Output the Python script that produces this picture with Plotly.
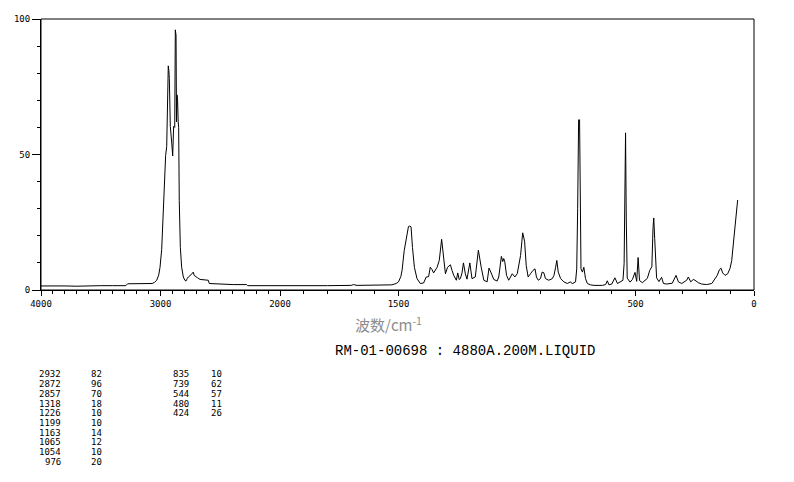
import plotly.graph_objects as go

# ---- spectrum data (wavenumber cm-1, relative intensity) ----
wn_high = [4000, 3900, 3800, 3700, 3600, 3500, 3400, 3290, 3275, 3150, 3070, 3050, 3032, 3015,
           3004, 2990, 2985, 2977, 2965, 2957, 2948, 2940, 2935, 2930, 2926, 2918, 2906, 2898,
           2890, 2881, 2876, 2870, 2866, 2862, 2857, 2852, 2848, 2843, 2834, 2823, 2809, 2795,
           2787, 2775, 2767, 2745, 2726, 2718, 2711, 2690, 2669, 2630, 2600, 2592, 2500, 2391,
           2280, 2270, 2100, 2000]
int_high = [1.5, 1.6, 1.5, 1.4, 1.6, 1.6, 1.6, 1.6, 2.3, 2.4, 2.4, 2.8, 3.6, 5.5,
            8.4, 15, 20.6, 33, 45, 49.6, 53, 67.6, 82.7, 81, 78, 60.4, 54.3, 49.5,
            60.4, 60, 96, 94, 62, 72, 70, 62, 60, 33, 15.7, 8.4, 4.8, 3.5,
            3.3, 4.3, 4.8, 5.6, 6.6, 5.4, 5.1, 4.5, 3.9, 3.7, 3.6, 2.4, 2.2, 2.0,
            2.0, 1.6, 1.6, 1.6]

wn_low = [2000, 1900, 1800, 1700, 1690, 1675, 1600, 1550, 1528, 1510, 1500, 1490, 1485, 1476,
          1464, 1458, 1452, 1447, 1441, 1433, 1422, 1408, 1394, 1383, 1373, 1366, 1359, 1352,
          1337, 1328, 1318, 1310, 1302, 1293, 1281, 1274, 1267, 1256, 1250, 1244, 1239, 1232,
          1226, 1218, 1211, 1199, 1190, 1176, 1163, 1151, 1140, 1126, 1118, 1109, 1098, 1084,
          1077, 1066, 1060, 1056, 1052, 1044, 1035, 1020, 1009, 999, 985, 976, 968, 961,
          953, 943, 933, 924, 918, 910, 901, 894, 887, 880, 866, 851, 844, 837,
          832, 826, 816, 802, 788, 774, 767, 753, 748, 744, 740, 736, 733, 730,
          724, 718, 711, 703, 690, 675, 640, 626, 619, 612, 600, 587, 576, 562,
          553, 548, 545, 542, 539, 535, 523, 513, 502, 495, 489, 483, 471, 450,
          440, 431, 426, 423, 419, 411, 401, 390, 382, 368, 345, 333, 329, 319,
          305, 284, 277, 267, 256, 249, 235, 221, 200, 178, 165, 155, 146, 139,
          132, 122, 111, 101, 94, 87, 80, 73, 69]
int_low = [1.6, 1.5, 1.6, 1.7, 2.0, 1.7, 1.7, 1.7, 1.9, 2.4, 3.0, 5, 7.2, 14.5,
           21.7, 23.4, 23.6, 23.3, 15.7, 8.4, 4.2, 2.4, 2.6, 4.8, 4.9, 8.4, 7.6, 6.3,
           8.4, 10.9, 18.7, 10.9, 6, 8.4, 9.3, 7.2, 5.4, 3.6, 6.3, 3.9, 4.2, 6.3,
           10, 6, 4, 10, 4.2, 4.8, 14.7, 8.4, 3.6, 3, 8.1, 6.3, 3.9, 3.3,
           4.8, 12.4, 10.5, 11.6, 10.6, 5.4, 3.6, 6, 4.8, 6, 12.7, 21.1, 18, 9,
           4.8, 6, 7.2, 7.8, 4.8, 3.6, 4.2, 6.6, 6.4, 4.2, 3.6, 4.2, 5.4, 8.4,
           10.9, 6.6, 4.2, 3, 2.4, 3, 2.3, 3, 7.8, 30, 62.8, 62.8, 30, 7.8,
           6.6, 8.4, 4.2, 2.4, 1.9, 1.7, 1.7, 2.0, 3.4, 1.9, 2.2, 4.5, 2.4, 3.3,
           3.6, 9.7, 48, 58, 26.6, 4.4, 2.9, 3.9, 6.5, 3.2, 12, 3.5, 2.7, 4.3,
           7.2, 8.6, 23, 26.6, 19, 4.5, 3.1, 4.7, 2.4, 2.2, 2.5, 4.8, 5.4, 3,
           2.4, 3.6, 4.8, 3, 3.9, 3.6, 2.7, 2.2, 2.0, 2.4, 4.2, 5.4, 7.5, 8,
           6.3, 5.4, 6, 8, 10.9, 17.5, 24, 30.8, 33.2]

# ---- peak table ----
peak_wn = [2932, 2872, 2857, 1318, 1226, 1199, 1163, 1065, 1054, 976, 835, 739, 544, 480, 424]
peak_int = [82, 96, 70, 18, 10, 10, 14, 12, 10, 20, 10, 62, 57, 11, 26]

# ---- axis tick labels ----
x_hi_ticks = [4000, 3000]
x_lo_ticks = [2000, 1500, 500, 0]
y_ticks = [0, 50, 100]

title_label = "波数/cm<sup>-1</sup>"
sample_label = "RM-01-00698 : 4880A.200M.LIQUID"

# page offset of the figure (browser body margin)
OFF = 8
PAGE_W, PAGE_H = 794, 482
W, H = PAGE_W - OFF, PAGE_H - OFF
# plot-area edges in page pixels
L, R, T, B = 41, 754, 14, 290
split = (280 - L) / (R - L)

MONO = "DejaVu Sans Mono"

fig = go.Figure()
fig.add_trace(go.Scatter(x=wn_high, y=int_high, mode="lines", xaxis="x", yaxis="y",
                         line=dict(color="black", width=1), showlegend=False, hoverinfo="skip"))
fig.add_trace(go.Scatter(x=wn_low, y=int_low, mode="lines", xaxis="x2", yaxis="y2",
                         line=dict(color="black", width=1), showlegend=False, hoverinfo="skip"))

axis_common = dict(showgrid=False, zeroline=False, showline=True, linecolor="black", linewidth=1,
                   ticks="outside", tickcolor="black", tickwidth=1, ticklen=5,
                   tickfont=dict(family=MONO, size=9, color="black"))

fig.update_layout(
    width=W, height=H,
    margin=dict(l=L - OFF, r=W - (R - OFF), t=T - OFF, b=H - (B - OFF), pad=0),
    paper_bgcolor="white", plot_bgcolor="white",
    xaxis=dict(domain=[0, split], range=[4000, 2000], anchor="y",
               tickmode="array", tickvals=x_hi_ticks, ticktext=[str(v) for v in x_hi_ticks],
               minor=dict(dtick=100, tick0=0, ticks="outside", ticklen=3, tickcolor="black"),
               **axis_common),
    xaxis2=dict(domain=[split, 1], range=[2000, 0], anchor="y2",
                tickmode="array", tickvals=x_lo_ticks, ticktext=[str(v) for v in x_lo_ticks],
                minor=dict(dtick=100, tick0=0, ticks="outside", ticklen=3, tickcolor="black"),
                **axis_common),
    yaxis=dict(range=[0, 100], anchor="x", domain=[0, 1],
               tickmode="array", tickvals=y_ticks, ticktext=[str(v) for v in y_ticks],
               minor=dict(dtick=10, tick0=0, ticks="outside", ticklen=3, tickcolor="black"),
               **{**axis_common, "ticklen": 8}),
    yaxis2=dict(range=[0, 100], anchor="x2", matches="y", visible=False),
    shapes=[dict(type="rect", xref="paper", yref="paper", x0=0, x1=1, y0=0, y1=1,
                 line=dict(color="black", width=1))],
)

def px_x(p):
    return (p - L) / (R - L)

def px_y(p):
    return (B - p) / (B - T)

ann = []
ann.append(dict(text=title_label, x=px_x(353), y=px_y(325), xref="paper", yref="paper",
                showarrow=False, xanchor="left", yanchor="middle",
                font=dict(family="Noto Sans CJK SC", size=15, color="#8c8c8c")))
ann.append(dict(text=sample_label, x=px_x(333), y=px_y(352), xref="paper", yref="paper",
                showarrow=False, xanchor="left", yanchor="middle",
                font=dict(family="Liberation Mono", size=14, color="black")))

col_wn_right = [63, 191]
col_int_right = [104, 224]
for i, (w, v) in enumerate(zip(peak_wn, peak_int)):
    col = 0 if i < 10 else 1
    row = i if i < 10 else i - 10
    yy = 376 + row * 9.9
    for txt, xr in ((str(w), col_wn_right[col]), (str(v), col_int_right[col])):
        ann.append(dict(text=txt, x=px_x(xr), y=px_y(yy), xref="paper", yref="paper",
                        showarrow=False, xanchor="right", yanchor="middle",
                        font=dict(family=MONO, size=9, color="black")))

fig.update_layout(annotations=ann)
fig.write_html("out.html")
